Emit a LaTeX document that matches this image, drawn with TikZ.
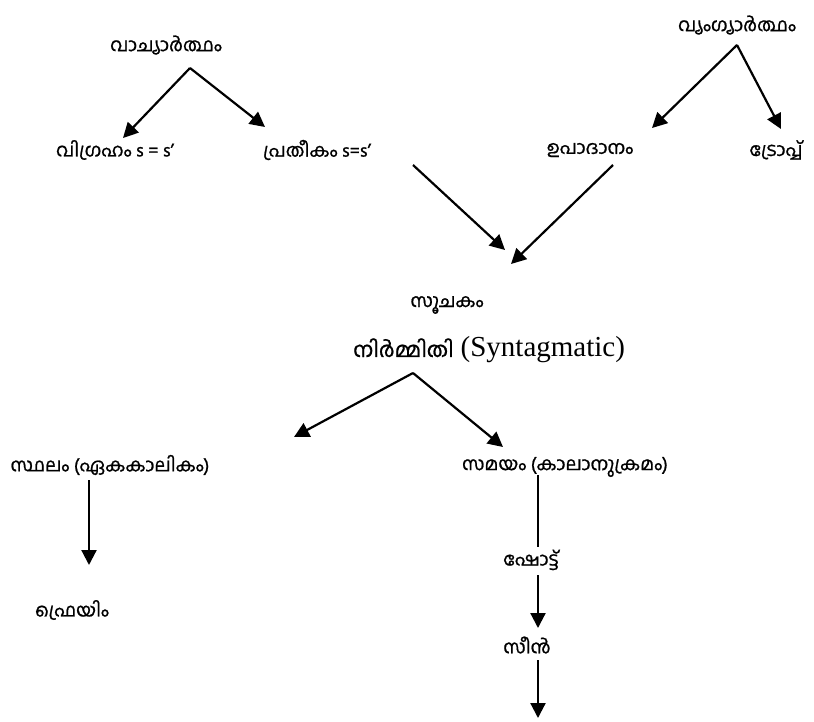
\documentclass[tikz,border=0pt]{standalone}
\usepackage{fontspec}
\usetikzlibrary{arrows.meta}
\setmainfont{Liberation Serif}
\newfontfamily\mlfont[Script=Malayalam,FakeBold=1]{Hind Kochi}
\begin{document}
\begin{tikzpicture}[x=1pt,y=-1pt,
  lbl/.style={inner sep=0pt, font=\mlfont\fontsize{18.5pt}{22pt}\selectfont},
  arr/.style={line width=2.2pt, -{Triangle[length=15pt,width=15pt]}},
  thinline/.style={line width=1.1pt}]
\useasboundingbox (0,0) rectangle (814,721);
% top row
\node[lbl] (vacya) at (166,45) {വാച്യാർത്ഥം};
\node[lbl] (vigraham) at (115,150) {വിഗ്രഹം s = s’};
\node[lbl] (pratheekam) at (317,150) {പ്രതീകം s=s’};
\node[lbl] (vyangya) at (737,25) {വ്യംഗ്യാർത്ഥം};
\node[lbl] (upadanam) at (590,150) {ഉപാദാനം};
\node[lbl] (trope) at (776,150) {ട്രോപ്പ്};
\node[lbl] (soochakam) at (447,305) {സൂചകം};
\node[inner sep=0pt, anchor=west] (nirmithi) at (353,350) {{\mlfont\fontsize{21pt}{26pt}\selectfont നിർമ്മിതി}\hspace{7pt}{\fontsize{29pt}{34pt}\selectfont (Syntagmatic)}};
\node[lbl] (sthalam) at (110,465) {സ്ഥലം (ഏകകാലികം)};
\node[lbl] (samayam) at (565,467) {സമയം (കാലാനുക്രമം)};
\node[lbl] (frame) at (72,610) {ഫ്രെയിം};
\node[lbl] (shot) at (531,560) {ഷോട്ട്};
\node[lbl] (scene) at (527,645) {സീൻ};
% arrow points
\coordinate (va) at (190,68);
\coordinate (vl) at (123,138);
\coordinate (vr) at (265,127);
\coordinate (ya) at (737,45);
\coordinate (yl) at (652,128);
\coordinate (yr) at (781,129);
\coordinate (ps) at (413,165);
\coordinate (pt) at (505,250);
\coordinate (us) at (613,165);
\coordinate (ut) at (511,264);
\coordinate (na) at (413,373);
\coordinate (nl) at (294,437);
\coordinate (nr) at (503,447);
\coordinate (ss) at (89,480);
\coordinate (st) at (89,565);
\coordinate (ms) at (538,475);
\coordinate (mt) at (538,547);
\coordinate (hs) at (538,575);
\coordinate (ht) at (538,628);
\coordinate (cs) at (538,660);
\coordinate (ct) at (538,718);
% arrows
\draw[arr] (va) -- (vl);
\draw[arr] (va) -- (vr);
\draw[arr] (ya) -- (yl);
\draw[arr] (ya) -- (yr);
\draw[arr] (ps) -- (pt);
\draw[arr] (us) -- (ut);
\draw[arr] (na) -- (nl);
\draw[arr] (na) -- (nr);
\draw[arr] (ss) -- (st);
\draw[thinline] (ms) -- (mt);
\draw[arr] (hs) -- (ht);
\draw[arr] (cs) -- (ct);
\end{tikzpicture}
\end{document}
